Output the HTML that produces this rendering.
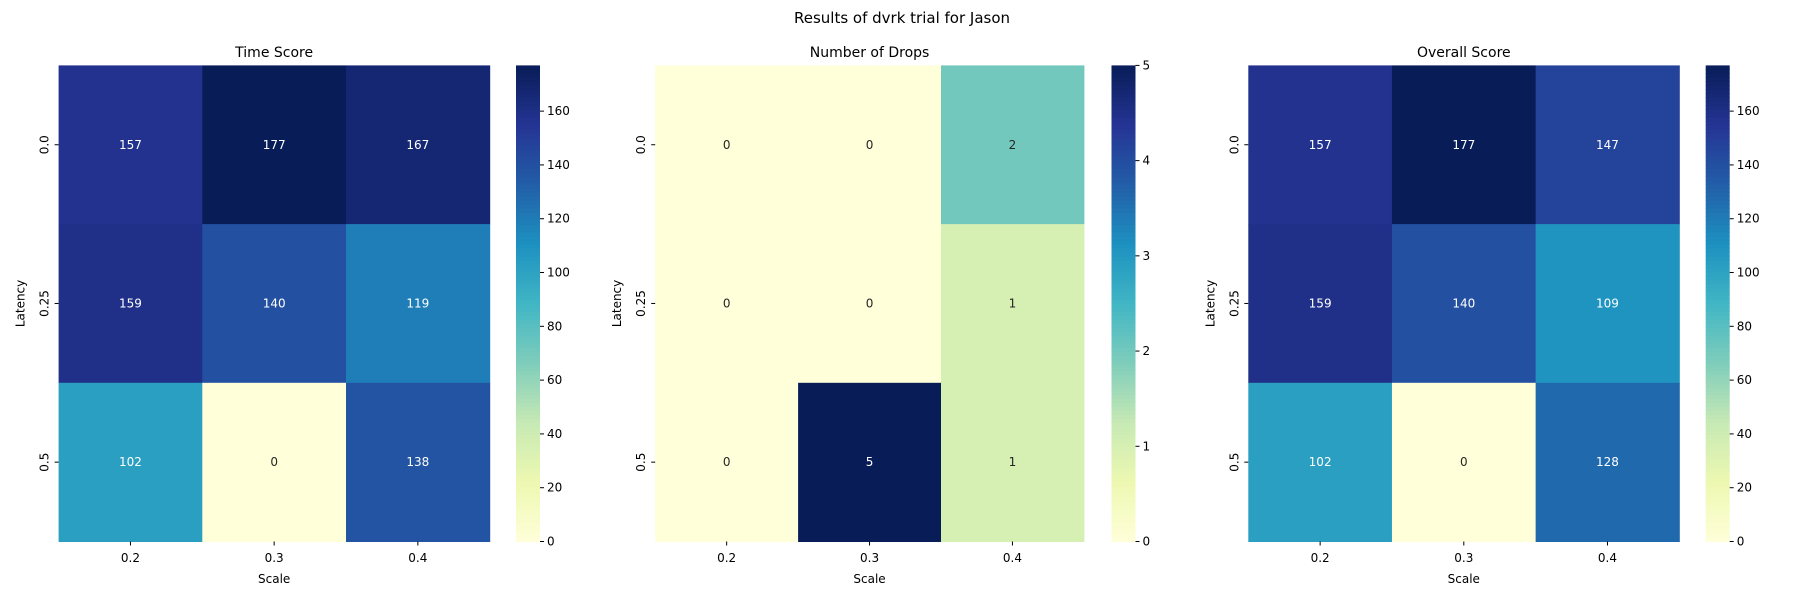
<!DOCTYPE html>
<html><head><meta charset="utf-8"><style>
body{margin:0;background:#fff;}
svg{display:block;font-family:"DejaVu Sans","Liberation Sans",sans-serif;}
</style></head><body>
<svg id="fig" width="1800" height="600" viewBox="0 0 1800 600">
<text x="902" y="23" font-size="15" text-anchor="middle">Results of dvrk trial for Jason</text>
</svg>
<script>
const xCategories = ["0.2","0.3","0.4"];
const yCategories = ["0.0","0.25","0.5"];
const panelTitles = ["Time Score","Number of Drops","Overall Score"];
const timeScore = [[157,177,167],[159,140,119],[102,0,138]];
const drops = [[0,0,2],[0,0,1],[0,5,1]];
const overallScore = [[157,177,147],[159,140,109],[102,0,128]];
const ticksScore = [0,20,40,60,80,100,120,140,160];
const ticksDrops = [0,1,2,3,4,5];

const panelData = [timeScore, drops, overallScore];
const panelTicks = [ticksScore, ticksDrops, ticksScore];
const panels = [{x0:58.6,x1:489.7,cb:516},{x0:655.2,x1:1083.9,cb:1111.5},{x0:1248.3,x1:1679.3,cb:1705.7}];
const Y0=65.4, Y1=541.5, CBW=24;
const stops=['#ffffd9','#edf8b1','#c7e9b4','#7fcdbb','#41b6c4','#1d91c0','#225ea8','#253494','#081d58'];
function hex(h){return [1,3,5].map(i=>parseInt(h.substr(i,2),16));}
function cmap(t){t=Math.max(0,Math.min(1,t));const p=t*(stops.length-1);const i=Math.min(Math.floor(p),stops.length-2);const f=p-i;const a=hex(stops[i]),b=hex(stops[i+1]);const c=a.map((v,k)=>Math.round(v+(b[k]-v)*f));return c;}
function rgb(c){return `rgb(${c[0]},${c[1]},${c[2]})`;}
function lum(c){const l=c.map(v=>{v/=255;return v<=0.03928?v/12.92:Math.pow((v+0.055)/1.055,2.4);});return 0.2126*l[0]+0.7152*l[1]+0.0722*l[2];}
const NS="http://www.w3.org/2000/svg";
const svg=document.getElementById('fig');
function el(tag,attrs,parent){const e=document.createElementNS(NS,tag);for(const k in attrs)e.setAttribute(k,attrs[k]);(parent||svg).appendChild(e);return e;}
panels.forEach((P,pi)=>{
  const data=panelData[pi];
  let vmin=Infinity,vmax=-Infinity;data.forEach(r=>r.forEach(v=>{vmin=Math.min(vmin,v);vmax=Math.max(vmax,v);}));
  const g=el('g',{});
  
  
  const cw=(P.x1-P.x0)/xCategories.length, ch=(Y1-Y0)/yCategories.length;
  const xPos=i=>P.x0+cw*i, yPos=j=>Y0+ch*j;
  data.forEach((row,j)=>row.forEach((v,i)=>{
    const c=cmap((v-vmin)/(vmax-vmin));
    const r=el('rect',{x:xPos(i),y:yPos(j),width:cw+0.5,height:ch+0.5,fill:rgb(c)},g);
    
    
    const t=el('text',{x:xPos(i)+cw/2,y:yPos(j)+ch/2+4,'font-size':12,'text-anchor':'middle',fill:lum(c)>0.408?'#262626':'#fff'},g);
    t.textContent=v;
    
    
  }));
  const tt=el('text',{x:(P.x0+P.x1)/2,y:57,'font-size':14,'text-anchor':'middle'},g);
  tt.textContent=panelTitles[pi];
  
  
  xCategories.forEach((c,i)=>{
    const x=xPos(i)+cw/2;
    el('line',{x1:x,x2:x,y1:Y1,y2:Y1+4,stroke:'#000','stroke-width':1},g);
    const t=el('text',{x:x,y:562,'font-size':12,'text-anchor':'middle'},g);
    t.textContent=c;
    
    
  });
  const xl=el('text',{x:(P.x0+P.x1)/2,y:583,'font-size':12,'text-anchor':'middle'},g);
  xl.textContent='Scale';
  
  
  yCategories.forEach((c,j)=>{
    const y=yPos(j)+ch/2;
    el('line',{x1:P.x0-4,x2:P.x0,y1:y,y2:y,stroke:'#000','stroke-width':1},g);
    const t=el('text',{x:P.x0-10,y:y,'font-size':12,'text-anchor':'middle',transform:`rotate(-90 ${P.x0-10} ${y})`},g);
    t.textContent=c;
    
    
  });
  const yl=el('text',{x:P.x0-34,y:(Y0+Y1)/2,'font-size':12,'text-anchor':'middle',transform:`rotate(-90 ${P.x0-34} ${(Y0+Y1)/2})`},g);
  yl.textContent='Latency';
  
  
  const cb=el('g',{},g);
  
  
  const N=120;
  for(let k=0;k<N;k++){
    const h=(Y1-Y0)/N;
    el('rect',{x:P.cb,y:Y1-(k+1)*h,width:CBW,height:h+0.6,fill:rgb(cmap((k+0.5)/N))},cb);
  }
  const cy=v=>Y1-(v-vmin)/(vmax-vmin)*(Y1-Y0);
  panelTicks[pi].forEach(v=>{
    if(v>vmax)return;
    const y=cy(v);
    el('line',{x1:P.cb+CBW,x2:P.cb+CBW+4,y1:y,y2:y,stroke:'#000'},cb);
    const t=el('text',{x:P.cb+CBW+7,y:y+4,'font-size':12},cb);
    t.textContent=v;
    
    
  });
});
</script>
</body></html>
